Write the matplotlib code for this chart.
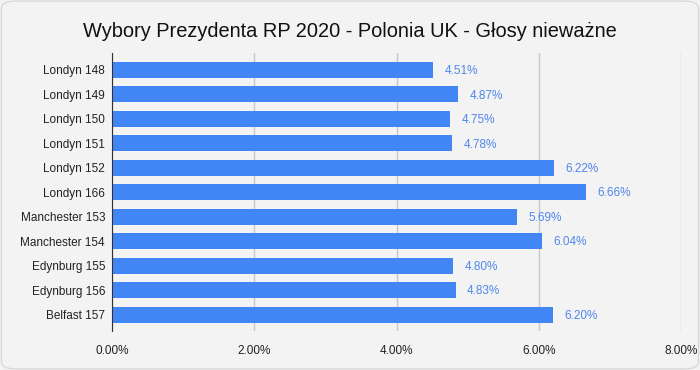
import matplotlib.pyplot as plt
from matplotlib.patches import FancyBboxPatch
from matplotlib.ticker import FuncFormatter

plt.rcParams['font.family'] = ['Liberation Sans', 'DejaVu Sans']

labels = ['Londyn 148', 'Londyn 149', 'Londyn 150', 'Londyn 151', 'Londyn 152',
          'Londyn 166', 'Manchester 153', 'Manchester 154', 'Edynburg 155',
          'Edynburg 156', 'Belfast 157']
values = [4.51, 4.87, 4.75, 4.78, 6.22, 6.66, 5.69, 6.04, 4.80, 4.83, 6.20]
ticks = [0, 2, 4, 6, 8]

fig = plt.figure(figsize=(7, 3.7), dpi=100)
fig.patch.set_facecolor('#f3f3f3')
fig.patches.append(FancyBboxPatch((0.002, 0.003), 0.996, 0.994,
                                  boxstyle='round,pad=0,rounding_size=0.02',
                                  transform=fig.transFigure, facecolor='none',
                                  edgecolor='#d9d9d9', lw=1))
ax = fig.add_axes([0.16, 0.105, 0.813, 0.752])
ax.set_facecolor('#f3f3f3')

y = range(len(labels))
ax.barh(y, values, height=0.66, color='#4285f4', zorder=3)
for yi, v in zip(y, values):
    ax.text(v + 0.16, yi + 0.05, f'{v:.2f}%', va='center', ha='left',
            color='#4f86ec', fontsize=8.5)

ax.set_ylim(len(labels) - 0.33, -0.69)
ax.set_xlim(0, 8)
ax.set_yticks(list(y))
ax.set_yticklabels(labels, fontsize=8.5, color='#222222')
ax.set_xticks(ticks)
ax.xaxis.set_major_formatter(FuncFormatter(lambda v, p: f'{v:.2f}%'))
ax.tick_params(axis='x', labelsize=8.5, colors='#222222', length=0, pad=10)
ax.tick_params(axis='y', length=0, pad=5)
ax.grid(axis='x', color='#c8c8c8', lw=1, zorder=0)
for s in ['top', 'right', 'bottom']:
    ax.spines[s].set_visible(False)
ax.spines['left'].set_color('#333333')
ax.spines['left'].set_zorder(4)

fig.text(0.5, 0.915, 'Wybory Prezydenta RP 2020 - Polonia UK - Głosy nieważne',
         ha='center', va='center', fontsize=14.4, color='#111111')

fig.savefig('out.png', dpi=100, facecolor=fig.get_facecolor())
